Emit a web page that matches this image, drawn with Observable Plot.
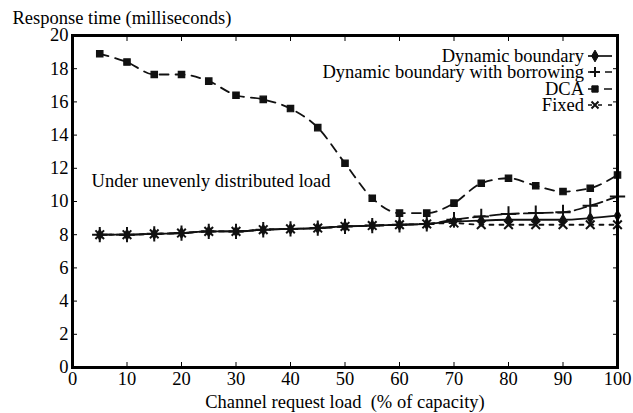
<!DOCTYPE html>
<html><head><meta charset="utf-8">
<script src="https://cdn.jsdelivr.net/npm/d3@7"></script>
<script src="https://cdn.jsdelivr.net/npm/@observablehq/plot@0.6"></script>
</head>
<body style="margin:0">
<div id="wrap" style="position:relative;width:633px;height:413px;font-family:'Liberation Serif'">
<div id="chart"></div>
<div id="legend" style="position:absolute;right:20px;top:48px;font-family:'Liberation Serif';font-size:18.5px;color:#000"></div>
</div>
<script>
const loads = [5,10,15,20,25,30,35,40,45,50,55,60,65,70,75,80,85,90,95,100];
const dynamicBoundary = [8.0,8.0,8.05,8.1,8.2,8.2,8.3,8.35,8.4,8.5,8.55,8.6,8.65,8.8,8.85,8.9,8.9,8.9,9.0,9.15];
const borrowing       = [8.0,8.0,8.05,8.1,8.2,8.2,8.3,8.35,8.4,8.5,8.55,8.6,8.65,8.9,9.1,9.25,9.3,9.35,9.75,10.3];
const dca             = [18.9,18.4,17.65,17.65,17.25,16.4,16.15,15.6,14.45,12.3,10.2,9.3,9.3,9.9,11.1,11.4,10.95,10.6,10.8,11.6];
const fixed           = [8.0,8.0,8.05,8.1,8.2,8.2,8.3,8.35,8.4,8.5,8.55,8.6,8.65,8.7,8.6,8.6,8.6,8.6,8.6,8.6];
const seriesNames = ["Dynamic boundary","Dynamic boundary with borrowing","DCA","Fixed"];
const xTicks = [0,10,20,30,40,50,60,70,80,90,100];
const yTicks = [0,2,4,6,8,10,12,14,16,18,20];
const annotation = [{x: 3.5, y: 11.25, text: "Under unevenly distributed load"}];
const yTitle = "Response time (milliseconds)";
const xTitle = "Channel request load  (% of capacity)";

const FONT = "Liberation Serif";
const FS = 18.5;
const styles = {
  "Dynamic boundary": {dash: null, symbol: "diamond", fill: true, r: 3.2},
  "Dynamic boundary with borrowing": {dash: "12,5", symbol: "plus", fill: false, r: 5},
  "DCA": {dash: "9,7", symbol: "square", fill: true, r: 3.6},
  "Fixed": {dash: "4,6", symbol: "times", fill: false, r: 4}
};
const values = [dynamicBoundary, borrowing, dca, fixed];
const data = seriesNames.map((name, i) => loads.map((x, j) => ({name, x, y: values[i][j]})));

const marks = [];
data.forEach((d, i) => {
  const s = styles[seriesNames[i]];
  marks.push(Plot.line(d, {x: "x", y: "y", stroke: "#111", strokeWidth: 1.8, strokeDasharray: s.dash, curve: "monotone-x"}));
});
data.forEach((d, i) => {
  const s = styles[seriesNames[i]];
  marks.push(Plot.dot(d, s.fill
    ? {x: "x", y: "y", symbol: () => s.symbol, fill: "#111", stroke: "#111", strokeWidth: 1.2, r: s.r}
    : {x: "x", y: "y", symbol: () => s.symbol, stroke: "#111", strokeWidth: 2, r: s.r}));
});

const chart = Plot.plot({
  width: 633, height: 413,
  marginLeft: 72, marginRight: 16, marginTop: 35, marginBottom: 46,
  style: "font-family: 'Liberation Serif'; font-size: 18.5px; color: #000;",
  symbol: {type: "identity"},
  x: {domain: [0, 100]},
  y: {domain: [0, 20]},
  marks: [
    ...marks,
    Plot.text(annotation, {x: "x", y: "y", text: "text", textAnchor: "start", fontSize: FS, fill: "#000", fontFamily: FONT}),
    Plot.axisX({ticks: xTicks, tickSize: -5, tickPadding: 9, label: null, fontSize: FS, fontFamily: FONT, fill: "#000"}),
    Plot.axisX({ticks: xTicks, anchor: "top", tickSize: -5, tickFormat: () => "", label: null}),
    Plot.axisY({ticks: yTicks, tickSize: -5, tickPadding: 9, label: null, fontSize: FS, fontFamily: FONT, fill: "#000"}),
    Plot.axisY({ticks: yTicks, anchor: "right", tickSize: -5, tickFormat: () => "", label: null}),
    Plot.frame({stroke: "#000", strokeWidth: 3}),
    Plot.text([yTitle], {frameAnchor: "top-left", dx: -60, dy: -17, text: d => d, textAnchor: "start", lineAnchor: "middle", fontSize: FS, fill: "#000", fontFamily: FONT}),
    Plot.text([xTitle], {frameAnchor: "bottom", dy: 35, text: d => d, lineAnchor: "middle", fontSize: FS, fill: "#000", fontFamily: FONT})
  ]
});
document.getElementById("chart").appendChild(chart);

// legend
const leg = document.getElementById("legend");
const symPath = {
  diamond: d3.symbol(d3.symbolDiamond, 40)(),
  plus: "M-5,0H5M0,-5V5",
  square: d3.symbol(d3.symbolSquare, 40)(),
  times: "M-3.5,-3.5L3.5,3.5M-3.5,3.5L3.5,-3.5"
};
seriesNames.forEach(name => {
  const s = styles[name];
  const row = document.createElement("div");
  row.style.cssText = "display:flex;justify-content:flex-end;align-items:center;height:16.3px;line-height:16px;font-family:'Liberation Serif'";
  const span = document.createElement("span");
  span.textContent = name;
  row.appendChild(span);
  const svg = d3.create("svg").attr("width", 26).attr("height", 14).style("margin-left", "3px");
  svg.append("line").attr("x1", 1).attr("x2", 25).attr("y1", 7).attr("y2", 7)
    .attr("stroke", "#111").attr("stroke-width", 1.7).attr("stroke-dasharray", s.dash);
  svg.append("path").attr("d", symPath[s.symbol]).attr("transform", "translate(8,7)")
    .attr("fill", s.fill ? "#111" : "none").attr("stroke", "#111").attr("stroke-width", s.fill ? 1 : 2);
  row.appendChild(svg.node());
  leg.appendChild(row);
});
</script></body></html>
